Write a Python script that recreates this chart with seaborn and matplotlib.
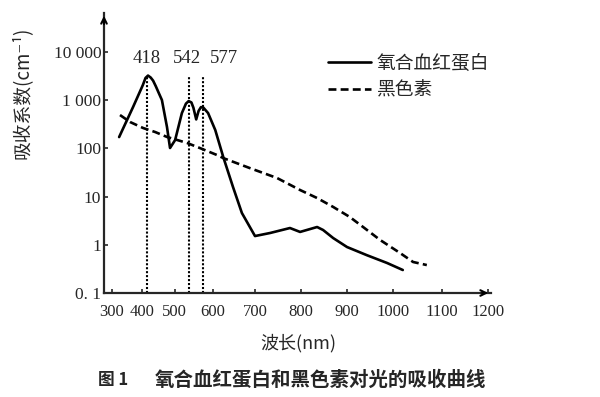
import numpy as np
import pandas as pd
import matplotlib
matplotlib.use('Agg')
import matplotlib.pyplot as plt
import seaborn as sns

# Absorption curves of oxyhemoglobin and melanin
hb_nm = [324, 371, 404, 413, 421, 429, 436, 444, 453, 462, 477, 486, 501, 521, 533, 541,
         548, 553, 560, 566, 572, 578, 589, 606, 625, 648, 669, 700, 733, 776, 798, 835,
         848, 870, 900, 943, 987, 1020]
hb_val = [172, 723, 2065, 2900, 3250, 2950, 2550, 1950, 1400, 1010, 278, 102, 149, 542,
          850, 960, 900, 700, 400, 600, 720, 700, 542, 241, 66, 15.8, 4.57, 1.52, 1.76,
          2.23, 1.85, 2.34, 2.03, 1.38, 0.90, 0.61, 0.42, 0.30]

mel_nm = [327, 361, 405, 442, 477, 536, 569, 610, 625, 688, 748, 798, 835, 870,
          906, 935, 972, 1014, 1041, 1069]
mel_val = [493, 353, 265, 219, 173, 130, 102, 73, 63, 39, 24.3, 13.7, 9.35, 6.1,
           3.78, 2.34, 1.26, 0.68, 0.44, 0.38]

peaks = [418, 542, 577]
peak_top = 3000

x_ticks = [300, 400, 500, 600, 700, 800, 900, 1000, 1100, 1200]
y_ticks = [0.1, 1, 10, 100, 1000, 10000]
y_ticklabels = ['0. 1', '1', '10', '100', '1 000', '10 000']

series_names = ['氧合血红蛋白', '黑色素']

# the printed x axis is not evenly spaced; follow it with a piecewise mapping
axis_nm = [250, 300, 418, 542, 577, 700, 800, 900, 1000, 1100, 1200, 1250]
axis_px = [90, 112, 147, 189, 203, 255, 301, 347, 393, 442, 488, 511]


def fwd(x):
    return np.interp(x, axis_nm, axis_px)


def inv(p):
    return np.interp(p, axis_px, axis_nm)


sns.set_style('ticks')
plt.rcParams['font.family'] = ['Noto Sans CJK SC', 'DejaVu Sans']
serif = ['Liberation Serif', 'DejaVu Serif']

fig = plt.figure(figsize=(6, 3.97), dpi=100)
ax = fig.add_axes([104 / 600, (397 - 293) / 397, (491 - 104) / 600, (293 - 13) / 397])

df_hb = pd.DataFrame({'nm': hb_nm, 'val': hb_val})
df_mel = pd.DataFrame({'nm': mel_nm, 'val': mel_val})

sns.lineplot(data=df_hb, x='nm', y='val', ax=ax, color='black', lw=1.9,
             label=series_names[0])
sns.lineplot(data=df_mel, x='nm', y='val', ax=ax, color='black', lw=1.9,
             label=series_names[1])
ax.lines[1].set_dashes((3.0, 1.6))

ax.vlines(peaks, 0.1, peak_top, colors='black', linestyles=(0, (1, 0.9)), lw=1.5)

ax.set_xscale('function', functions=(fwd, inv))
ax.set_yscale('log')
ax.set_xlim(inv(104), inv(491))
ax.set_ylim(0.1, 10 ** 4.81)

ax.set_xticks(x_ticks)
ax.set_xticklabels([str(t) for t in x_ticks], family=serif, fontsize=12)
ax.set_yticks(y_ticks)
ax.set_yticklabels(y_ticklabels, family=serif, fontsize=12.5)
ax.yaxis.set_minor_locator(matplotlib.ticker.NullLocator())
ax.tick_params(direction='in', length=3, width=1.2, pad=2)
ax.tick_params(axis='x', pad=8)

for s in ['top', 'right']:
    ax.spines[s].set_visible(False)
for s in ['left', 'bottom']:
    ax.spines[s].set_linewidth(1.6)

ax.annotate('', xy=(0, 1.0), xytext=(0, 0.95), xycoords='axes fraction',
            arrowprops=dict(arrowstyle='->', lw=1.5, color='black'))
ax.annotate('', xy=(1.0, 0), xytext=(0.97, 0), xycoords='axes fraction',
            arrowprops=dict(arrowstyle='->', lw=1.5, color='black'))

# peak labels
offsets = [0, -2, 21]
for p, dx in zip(peaks, offsets):
    ax.annotate(str(p), xy=(p, 10 ** 3.86), xytext=(dx, 0), textcoords='offset pixels',
                ha='center', va='center', family=serif, fontsize=13.5)

ax.set_xlabel('')
ax.set_ylabel('')
fig.text(22 / 600, 1 - 93 / 397, '吸收系数(cm⁻¹)', rotation=90, ha='center', va='center',
         fontsize=13.5)
fig.text(298 / 600, 1 - 343 / 397, '波长(nm)', ha='center', va='center', fontsize=13)
fig.text(98 / 600, 1 - 380 / 397, '图 1', ha='left', va='center',
         fontsize=12, fontweight='bold')
fig.text(155 / 600, 1 - 380 / 397, '氧合血红蛋白和黑色素对光的吸收曲线', ha='left', va='center',
         fontsize=14, fontweight='bold')

leg = ax.legend(loc='upper left', bbox_to_anchor=(328 / 600, 1 - 53 / 397),
                bbox_transform=fig.transFigure, frameon=False, fontsize=13.5,
                handlelength=2.3, handletextpad=0.3, labelspacing=0.3,
                borderpad=0, borderaxespad=0)

fig.savefig('out.png', dpi=100)
